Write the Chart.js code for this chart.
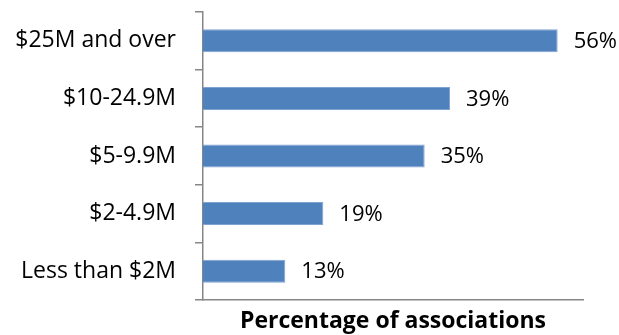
<!DOCTYPE html>
<html>
<head>
<meta charset="utf-8">
<script src="https://cdn.jsdelivr.net/npm/chart.js@4/dist/chart.umd.min.js"></script>
<style>
  html, body { margin: 0; padding: 0; background: #fff; }
  canvas { display: block; }
</style>
</head>
<body>
<canvas id="chart" width="619" height="335"></canvas>
<script>
// budget bands and share of associations in each
const bands = ['$25M and over', '$10-24.9M', '$5-9.9M', '$2-4.9M', 'Less than $2M'];
const shares = [56, 39, 35, 19, 13];
const axisTitle = 'Percentage of associations';

Chart.defaults.font.family = "'Open Sans', sans-serif";
Chart.defaults.font.size = 23;
Chart.defaults.color = '#000';

// writes the percentage just past the end of each bar
const valueLabels = {
  id: 'valueLabels',
  afterDatasetsDraw(chart) {
    const ctx = chart.ctx;
    const meta = chart.getDatasetMeta(0);
    ctx.save();
    ctx.font = "22px 'Open Sans', sans-serif";
    ctx.fillStyle = '#000';
    ctx.textAlign = 'left';
    ctx.textBaseline = 'middle';
    meta.data.forEach((bar, i) => {
      ctx.fillText(shares[i] + '%', bar.x + 16, bar.y + 1);
    });
    ctx.restore();
  }
};

new Chart(document.getElementById('chart'), {
  type: 'bar',
  data: {
    labels: bands,
    datasets: [{
      data: shares,
      backgroundColor: '#4F81BD',
      borderColor: '#7FA3D1',
      borderWidth: 1,
      categoryPercentage: 1,
      barPercentage: 0.4
    }]
  },
  options: {
    indexAxis: 'y',
    responsive: false,
    animation: false,
    layout: { padding: { top: 12, right: 36, left: 0, bottom: 0 } },
    plugins: {
      legend: { display: false },
      tooltip: { enabled: false }
    },
    scales: {
      x: {
        min: 0,
        max: 60,
        ticks: { display: false },
        grid: { display: false },
        border: { display: true, color: '#868686', width: 1.5 },
        title: {
          display: true,
          text: axisTitle,
          font: { size: 23, weight: 'bold' },
          color: '#000',
          padding: { top: 3, bottom: 0 }
        },
        afterFit(scale) {
          scale.height = 35;
          scale.paddingLeft = 0;
          scale.paddingRight = 0;
        }
      },
      y: {
        grid: {
          drawOnChartArea: false,
          drawTicks: true,
          tickLength: 8,
          color: '#868686',
          lineWidth: 1.5
        },
        border: { display: true, color: '#868686', width: 1.5 },
        ticks: { padding: 19, color: '#000', font: { size: 23 } },
        afterFit(scale) {
          scale.width = 203;
          // keep the label half-heights from pushing the plot inward
          scale.paddingTop = 0;
          scale.paddingBottom = 0;
        }
      }
    }
  },
  plugins: [valueLabels]
});
</script>
</body>
</html>
